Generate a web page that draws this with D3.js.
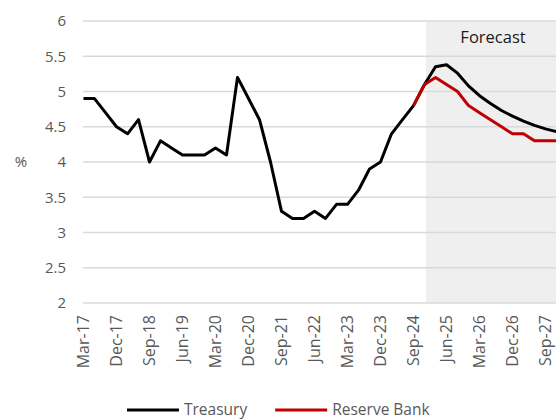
<!DOCTYPE html>
<html>
<head>
<meta charset="utf-8">
<script src="https://cdn.jsdelivr.net/npm/d3@7/dist/d3.min.js"></script>
<style>
  html, body { margin: 0; padding: 0; background: #ffffff; }
  svg { display: block; font-family: "Open Sans", "Liberation Sans", sans-serif; }
</style>
</head>
<body>
<svg id="chart" width="556" height="419"></svg>
<script>
// Quarterly periods, Mar-17 to Dec-27
const quarters = [
  "Mar-17","Jun-17","Sep-17","Dec-17","Mar-18","Jun-18","Sep-18","Dec-18",
  "Mar-19","Jun-19","Sep-19","Dec-19","Mar-20","Jun-20","Sep-20","Dec-20",
  "Mar-21","Jun-21","Sep-21","Dec-21","Mar-22","Jun-22","Sep-22","Dec-22",
  "Mar-23","Jun-23","Sep-23","Dec-23","Mar-24","Jun-24","Sep-24","Dec-24",
  "Mar-25","Jun-25","Sep-25","Dec-25","Mar-26","Jun-26","Sep-26","Dec-26",
  "Mar-27","Jun-27","Sep-27","Dec-27"
];

// Treasury: history plus forecast (%)
const treasury = [
  4.9, 4.9, 4.7, 4.5, 4.4, 4.6, 4.0, 4.3,
  4.2, 4.1, 4.1, 4.1, 4.2, 4.1, 5.2, 4.9,
  4.6, 4.0, 3.3, 3.2, 3.2, 3.3, 3.2, 3.4,
  3.4, 3.6, 3.9, 4.0, 4.4, 4.6, 4.8, 5.1,
  5.35, 5.38, 5.26, 5.08, 4.94, 4.83, 4.73, 4.65,
  4.58, 4.52, 4.47, 4.43
];

// Reserve Bank forecast path, from Sep-24 (%)
const reserveStart = "Sep-24";
const reserveBank = [4.8, 5.1, 5.2, 5.1, 5.0, 4.8, 4.7, 4.6, 4.5, 4.4, 4.4, 4.3, 4.3, 4.3];

const forecastFrom = "Dec-24";
const forecastLabel = "Forecast";
const yTicks = [2, 2.5, 3, 3.5, 4, 4.5, 5, 5.5, 6];
const labelEvery = 3;
const yTitle = "%";

const seriesNames = ["Treasury", "Reserve Bank"];
const seriesColors = ["#000000", "#c00000"];

const svg = d3.select("#chart");
const W = 556, H = 419;
const plot = { left: 83.5, right: 556.5, top: 21, bottom: 303 };

const x = d3.scalePoint().domain(quarters).range([plot.left, plot.right]);
const y = d3.scaleLinear().domain([2, 6]).range([plot.bottom, plot.top]);

// Forecast shading
svg.append("rect")
  .attr("x", x(forecastFrom) + 1.5)
  .attr("y", y(6))
  .attr("width", W - x(forecastFrom))
  .attr("height", y(2) - y(6))
  .attr("fill", "#efefef");

// Horizontal gridlines
svg.append("g")
  .selectAll("line")
  .data(yTicks)
  .join("line")
  .attr("x1", plot.left - 0.5)
  .attr("x2", W)
  .attr("y1", d => y(d))
  .attr("y2", d => y(d))
  .attr("stroke", "#d9d9d9")
  .attr("stroke-width", 1.3);

// Y tick labels
svg.append("g")
  .selectAll("text")
  .data(yTicks)
  .join("text")
  .attr("x", 66)
  .attr("y", d => y(d))
  .attr("dy", "0.35em")
  .attr("text-anchor", "end")
  .attr("fill", "#595959")
  .attr("font-size", 15)
  .text(d => d3.format("~g")(d));

// Y axis title
svg.append("text")
  .attr("x", 21)
  .attr("y", y(4))
  .attr("dy", "0.35em")
  .attr("text-anchor", "middle")
  .attr("fill", "#595959")
  .attr("font-size", 15)
  .text(yTitle);

// X tick labels, rotated
svg.append("g")
  .selectAll("text")
  .data(quarters.filter((q, i) => i % labelEvery === 0))
  .join("text")
  .attr("transform", d => `translate(${x(d)},315) rotate(-90)`)
  .attr("dy", "0.35em")
  .attr("text-anchor", "end")
  .attr("fill", "#595959")
  .attr("font-size", 16)
  .text(d => d);

// Forecast label
svg.append("text")
  .attr("x", (x(forecastFrom) + W + 1.5) / 2 + 2)
  .attr("y", 43)
  .attr("text-anchor", "middle")
  .attr("fill", "#1a1a1a")
  .attr("font-size", 16.5)
  .text(forecastLabel);

// Lines
svg.append("clipPath").attr("id", "plot-clip")
  .append("rect").attr("x", 0).attr("y", 0).attr("width", W).attr("height", H);

const line = d3.line()
  .x(d => x(d.q))
  .y(d => y(d.v));

const treasuryData = quarters.map((q, i) => ({ q, v: treasury[i] }));
const rbStartIdx = quarters.indexOf(reserveStart);
const rbData = reserveBank.map((v, i) => ({ q: quarters[rbStartIdx + i], v }));

const lines = svg.append("g").attr("clip-path", "url(#plot-clip)");
lines.append("path")
  .datum(treasuryData)
  .attr("d", line)
  .attr("fill", "none")
  .attr("stroke", seriesColors[0])
  .attr("stroke-width", 3)
  .attr("stroke-linejoin", "round");

lines.append("path")
  .datum(rbData)
  .attr("d", line)
  .attr("fill", "none")
  .attr("stroke", seriesColors[1])
  .attr("stroke-width", 3)
  .attr("stroke-linejoin", "round");

// Legend
const legend = svg.append("g").attr("transform", "translate(0,410)");
let lx = 127;
seriesNames.forEach((name, i) => {
  legend.append("line")
    .attr("x1", lx).attr("x2", lx + 52)
    .attr("y1", 0).attr("y2", 0)
    .attr("stroke", seriesColors[i])
    .attr("stroke-width", 3);
  const t = legend.append("text")
    .attr("x", lx + 57)
    .attr("y", 0)
    .attr("dy", "0.3em")
    .attr("fill", "#595959")
    .attr("font-size", 15.5)
    .text(name);
  lx += 57 + t.node().getComputedTextLength() + 28;
});
</script>
</body>
</html>
